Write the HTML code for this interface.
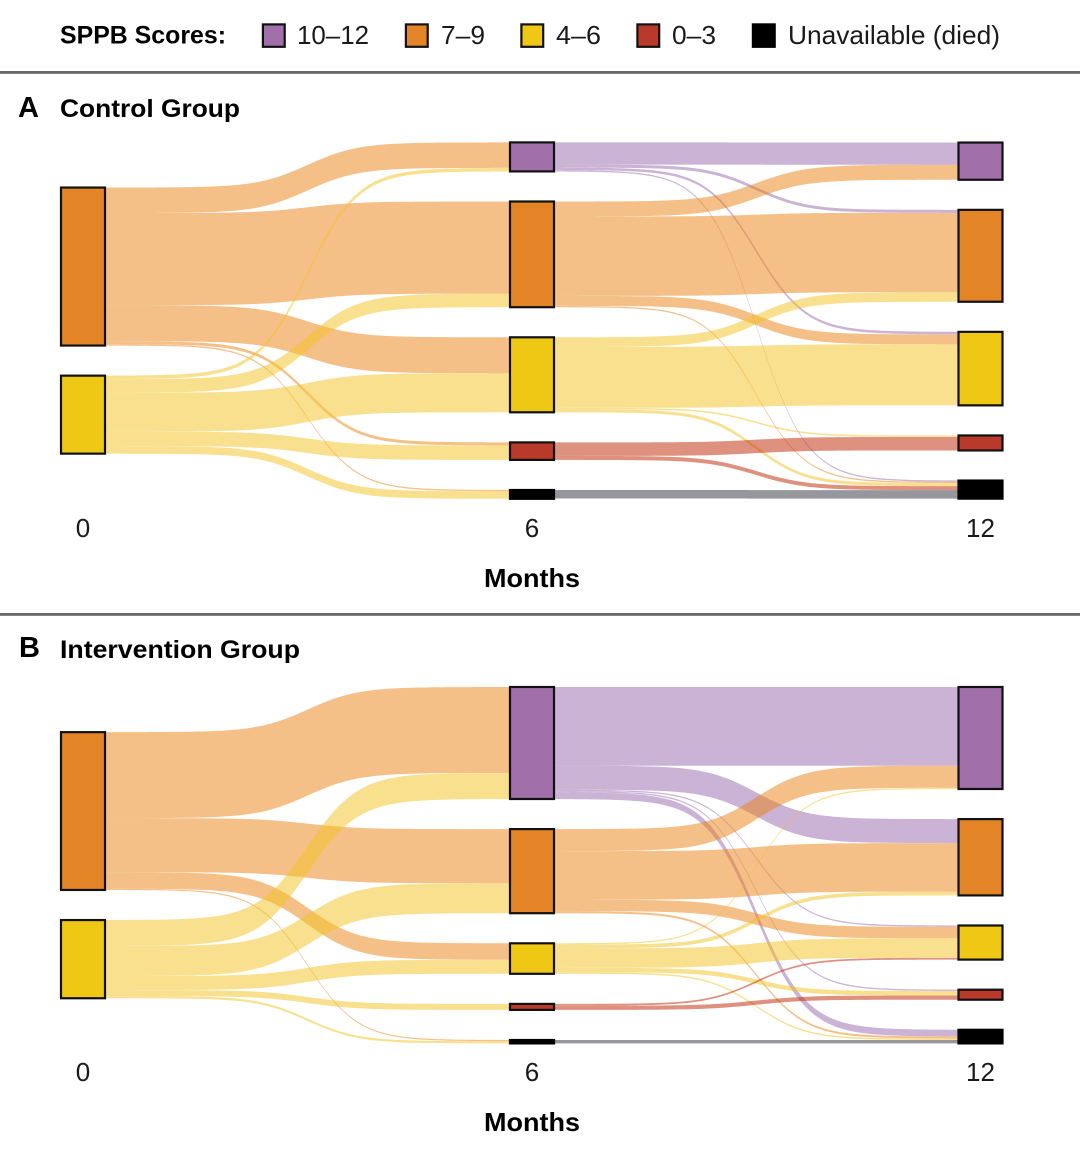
<!DOCTYPE html>
<html lang="en">
<head>
<meta charset="utf-8">
<title>SPPB Scores Sankey</title>
<style>
html,body{margin:0;padding:0;background:#fff;}
svg{display:block;font-family:"Liberation Sans",sans-serif;}
.b{font-weight:700;fill:#000;}
.r{font-weight:400;fill:#1a1a1a;}
</style>
</head>
<body>
<svg id="chart" xmlns="http://www.w3.org/2000/svg" width="1080" height="1161" viewBox="0 0 1080 1161">
  <rect x="0" y="0" width="1080" height="1161" fill="#fff"/>
  <g>
    <text class="b" x="60" y="43.5" font-size="25" textLength="166" lengthAdjust="spacingAndGlyphs">SPPB Scores:</text>
    <rect x="262.9" y="24.4" width="21.8" height="22.4" fill="#A170AB" stroke="#111" stroke-width="2.2"/>
    <text class="r" x="297" y="44" font-size="26" textLength="72" lengthAdjust="spacingAndGlyphs">10–12</text>
    <rect x="405.9" y="24.4" width="21.8" height="22.4" fill="#E38526" stroke="#111" stroke-width="2.2"/>
    <text class="r" x="441" y="44" font-size="26" textLength="44" lengthAdjust="spacingAndGlyphs">7–9</text>
    <rect x="521.4" y="24.4" width="21.8" height="22.4" fill="#EEC815" stroke="#111" stroke-width="2.2"/>
    <text class="r" x="556" y="44" font-size="26" textLength="45" lengthAdjust="spacingAndGlyphs">4–6</text>
    <rect x="637.4" y="24.4" width="21.8" height="22.4" fill="#B93A2A" stroke="#111" stroke-width="2.2"/>
    <text class="r" x="672" y="44" font-size="26" textLength="44" lengthAdjust="spacingAndGlyphs">0–3</text>
    <rect x="752.9" y="24.4" width="21.8" height="22.4" fill="#000" stroke="#000" stroke-width="2.2"/>
    <text class="r" x="788" y="44" font-size="26" textLength="212" lengthAdjust="spacingAndGlyphs">Unavailable (died)</text>
  </g>
  <rect x="0" y="71" width="1080" height="2.8" fill="#666"/>
  <rect x="0" y="613" width="1080" height="2.8" fill="#666"/>
  <text class="b" x="18" y="117" font-size="29">A</text>
  <text class="b" x="60" y="117" font-size="25" textLength="180" lengthAdjust="spacingAndGlyphs">Control Group</text>
  <text class="b" x="19" y="657" font-size="29">B</text>
  <text class="b" x="60" y="658" font-size="25" textLength="240" lengthAdjust="spacingAndGlyphs">Intervention Group</text>
  <g id="panel-a"></g>
  <g id="panel-b"></g>
</svg>
<script>
// Score categories, top to bottom
const categories = ['10-12', '7-9', '4-6', '0-3', 'unavailable'];
const tickLabels = ['0', '6', '12'];
const axisTitle = 'Months';

// Flow widths: rows = source category, columns = target category
const controlMonth0To6 = [
  [0, 0, 0, 0, 0],
  [25.5, 92.2, 36, 3, 1.3],
  [3.5, 13.5, 39, 14.5, 7.5],
  [0, 0, 0, 0, 0],
  [0, 0, 0, 0, 0]
];
const controlMonth6To12 = [
  [22.2, 3, 2.5, 0, 1.3],
  [15, 79.4, 10, 0, 1.3],
  [0, 9.5, 61, 1.5, 3],
  [0, 0, 0, 13.5, 4],
  [0, 0, 0, 0, 8.5]
];
const interventionMonth0To6 = [
  [0, 0, 0, 0, 0],
  [86, 54.1, 16.5, 0, 1.2],
  [26, 30, 14, 6, 2.2],
  [0, 0, 0, 0, 0],
  [0, 0, 0, 0, 0]
];
const interventionMonth6To12 = [
  [78.7, 24, 1.3, 1.3, 6.7],
  [22, 48.6, 11.5, 0, 2],
  [1.3, 3.7, 19.5, 4.5, 1.5],
  [0, 0, 1.8, 4.2, 0],
  [0, 0, 0, 0, 3.4]
];

const nodeFill = ['#A170AB', '#E38526', '#EEC815', '#B93A2A', '#000000'];
const flowFill = ['#9567AB', '#E98111', '#F1C11F', '#BF2300', '#2D2F39'];
const NS = 'http://www.w3.org/2000/svg';

// Axis functions
const stageLeft = [61, 510, 958.5];
const nodeWidth = 44;
const unitPx = 1;
const nodeGap = 30.1;
function widthScale(v) { return v * unitPx; }
function stageX(i) { return stageLeft[i]; }
function sigmoid(u) {
  const z = (u * 2 - 1) * 8;
  return Math.exp(z) / (Math.exp(z) + 1);
}

function sumRow(m, r) { return m[r].reduce(function (a, b) { return a + b; }, 0); }
function sumCol(m, c) { return m.reduce(function (a, row) { return a + row[c]; }, 0); }

function stageTops(heights, centerY) {
  const shown = heights.filter(function (h) { return h > 0; });
  const total = shown.reduce(function (a, b) { return a + b; }, 0) + nodeGap * (shown.length - 1);
  let y = centerY - total / 2;
  return heights.map(function (h) {
    const top = y;
    if (h > 0) { y += h + nodeGap; }
    return top;
  });
}

function drawFlow(parent, x0, x1, y0, y1, h, cat, label) {
  const n = 90;
  const top = [];
  const bottom = [];
  for (let i = 0; i <= n; i++) {
    const u = i / n;
    const x = x0 + (x1 - x0) * u;
    const y = y0 + (y1 - y0) * sigmoid(u);
    top.push(x.toFixed(2) + ',' + y.toFixed(2));
    bottom.unshift(x.toFixed(2) + ',' + (y + h).toFixed(2));
  }
  const el = document.createElementNS(NS, 'polygon');
  el.setAttribute('points', top.concat(bottom).join(' '));
  el.setAttribute('fill', flowFill[cat]);
  el.setAttribute('fill-opacity', '0.5');
  
  
  parent.appendChild(el);
}

function drawPanel(parentId, prefix, first, second, centerY, tickBaseline, titleBaseline) {
  const parent = document.getElementById(parentId);
  const count = categories.length;
  const heights = [[], [], []];
  for (let c = 0; c < count; c++) {
    heights[0].push(widthScale(sumRow(first, c)));
    heights[1].push(widthScale(Math.max(sumCol(first, c), sumRow(second, c))));
    heights[2].push(widthScale(sumCol(second, c)));
  }
  const tops = heights.map(function (h) { return stageTops(h, centerY); });
  const matrices = [first, second];

  matrices.forEach(function (m, s) {
    const x0 = stageX(s) + nodeWidth;
    const x1 = stageX(s + 1);
    const targetUsed = new Array(count).fill(0);
    for (let r = 0; r < count; r++) {
      let sourceUsed = 0;
      for (let c = 0; c < count; c++) {
        const h = widthScale(m[r][c]);
        if (h <= 0) { continue; }
        const label = prefix + '-flow-stage' + s + '-' + categories[r] + '-to-' + categories[c];
        drawFlow(parent, x0, x1, tops[s][r] + sourceUsed, tops[s + 1][c] + targetUsed[c], h, r, label);
        sourceUsed += h;
        targetUsed[c] += h;
      }
    }
  });

  heights.forEach(function (stage, s) {
    stage.forEach(function (h, c) {
      if (h <= 0) { return; }
      const el = document.createElementNS(NS, 'rect');
      el.setAttribute('x', stageX(s));
      el.setAttribute('y', tops[s][c].toFixed(2));
      el.setAttribute('width', nodeWidth);
      el.setAttribute('height', h.toFixed(2));
      el.setAttribute('fill', nodeFill[c]);
      el.setAttribute('stroke', c === 4 ? '#000' : '#111');
      el.setAttribute('stroke-width', '2.2');
      
      
      parent.appendChild(el);
    });
  });

  tickLabels.forEach(function (t, s) {
    const el = document.createElementNS(NS, 'text');
    el.setAttribute('x', stageX(s) + nodeWidth / 2);
    el.setAttribute('y', tickBaseline);
    el.setAttribute('text-anchor', 'middle');
    el.setAttribute('font-size', '26');
    el.setAttribute('class', 'r');
    
    
    el.textContent = t;
    parent.appendChild(el);
  });

  const title = document.createElementNS(NS, 'text');
  title.setAttribute('x', '484');
  title.setAttribute('y', titleBaseline);
  title.setAttribute('font-size', '26');
  title.setAttribute('class', 'b');
  title.setAttribute('textLength', '96');
  title.setAttribute('lengthAdjust', 'spacingAndGlyphs');
  
  
  title.textContent = axisTitle;
  parent.appendChild(title);
}

drawPanel('panel-a', 'control', controlMonth0To6, controlMonth6To12, 320.6, 537, 587);
drawPanel('panel-b', 'intervention', interventionMonth0To6, interventionMonth6To12, 865.2, 1081, 1131);
</script>
</body>
</html>
